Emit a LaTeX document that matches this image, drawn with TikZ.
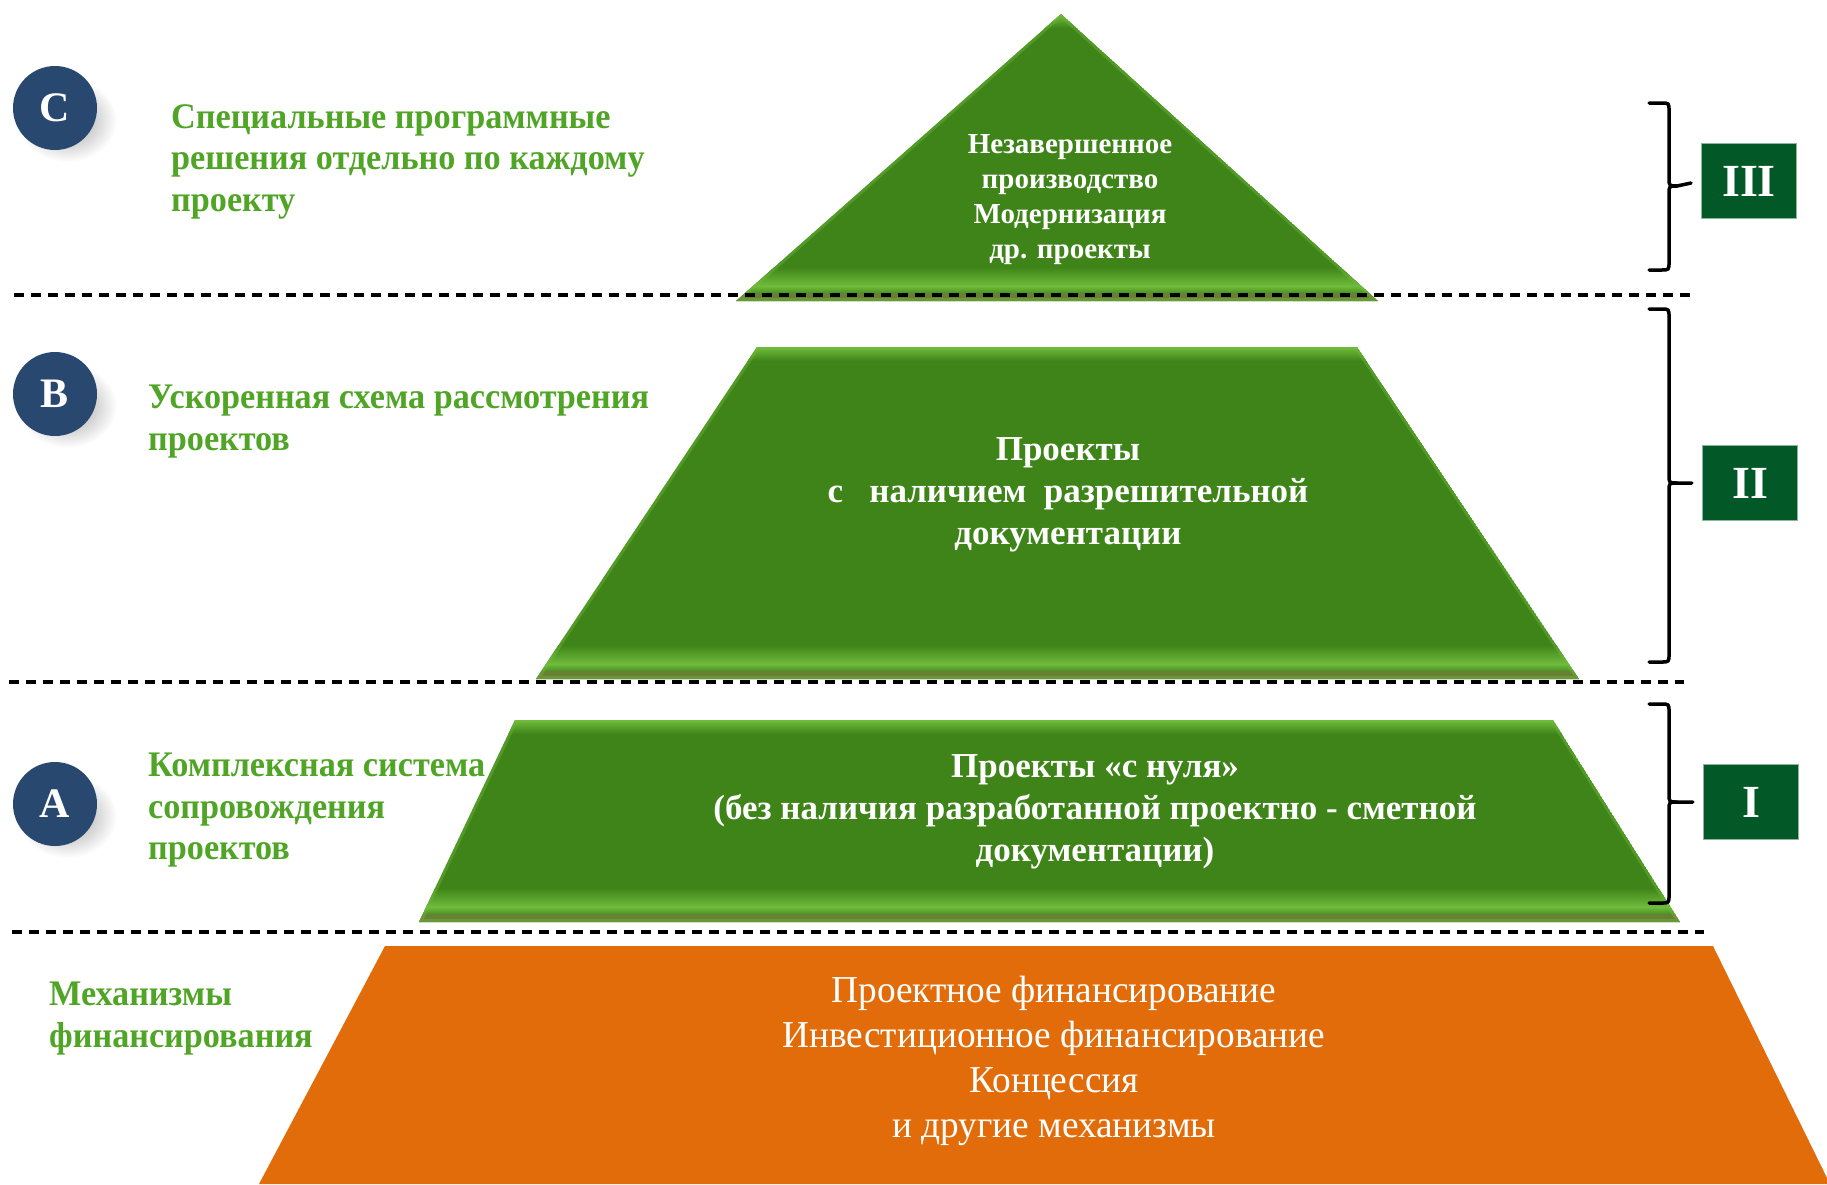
\documentclass[tikz,border=0pt]{standalone}
\usepackage{fontspec}
\setmainfont{Liberation Serif}
\newfontfamily\condfont[FakeStretch=0.95]{Liberation Serif}
\newfontfamily\orfont[FakeStretch=0.982]{Liberation Serif}
\definecolor{gbase}{RGB}{62,132,24}
\definecolor{glight}{RGB}{112,188,60}
\definecolor{gdark}{RGB}{104,128,52}
\definecolor{glabel}{RGB}{80,165,38}
\definecolor{navy}{RGB}{40,72,112}
\definecolor{orng}{RGB}{227,108,10}
\definecolor{boxg}{RGB}{3,88,40}
\newcommand{\greenslab}[3]{%
  \begin{scope}
    \clip #1;
    \fill[gbase] #1;
    \shade[top color=glight, bottom color=gbase] (0,#3) rectangle (1827,#3+14);
    \shade[top color=gbase, bottom color=glight] (0,#2-34) rectangle (1827,#2-15);
    \shade[top color=glight, bottom color=gbase!75!glight] (0,#2-15) rectangle (1827,#2-8);
    \fill[gdark] (0,#2-8) rectangle (1827,#2+2);
    \draw[glight, line width=6, opacity=0.4] #1;
  \end{scope}}
\tikzset{
  lbl/.style={text=glabel, font=\condfont\bfseries\fontsize{36}{41.5}\selectfont, align=left, inner sep=0, anchor=west},
  intext/.style={text=white, font=\bfseries\fontsize{35}{42}\selectfont, align=center, inner sep=0},
  circ/.style={circle, minimum size=84, inner sep=0, fill=navy, text=white, font=\bfseries\fontsize{42}{42}\selectfont},
  numbox/.style={rectangle, minimum width=95, minimum height=75, fill=boxg, draw=boxg!45!white, line width=1.5, text=white, font=\bfseries\fontsize{46}{46}\selectfont},
  sep/.style={dash pattern=on 10pt off 7pt, line width=3.2},
  brace/.style={line width=3.5, line cap=round, line join=round}
}
\begin{document}
\begin{tikzpicture}[x=1pt,y=-1pt]
\useasboundingbox (0,0) rectangle (1827,1184);
% orange base
\fill[orng] (385,946) -- (1713,946) -- (1830,1184) -- (259,1184) -- cycle;
% green shapes
\greenslab{(1061,14) -- (1378,301) -- (736,301) -- cycle}{301}{14}
\greenslab{(757,347) -- (1357,347) -- (1579,679) -- (536,679) -- cycle}{679}{347}
\greenslab{(515,720) -- (1553,720) -- (1680,922) -- (419,922) -- cycle}{922}{720}
% dashed separators
\draw[sep] (14,295) -- (1695,295);
\draw[sep] (9,682) -- (1684,682);
\draw[sep] (12,932) -- (1704,932);
% circle shadows
\foreach \cy in {108,394,804}{
  \shade[inner color=black!40, outer color=white] (67,\cy+12) ellipse [x radius=50, y radius=42];
}
\node[circ] (cC) at (55,108) {C};
\node[circ] (cB) at (55,394) {B};
\node[circ] (cA) at (55,804) {A};
% left labels
\node[lbl] (lC) at (171,161.5) {Специальные программные\\решения отдельно по каждому\\проекту};
\node[lbl] (lB) at (148,421.5) {Ускоренная схема рассмотрения\\проектов};
\node[lbl] (lA) at (148,810.5) {Комплексная система\\сопровождения\\проектов};
\node[lbl] (lM) at (49,1018.5) {Механизмы\\финансирования};
% shape texts
\node[intext, font=\bfseries\fontsize{29}{35}\selectfont] (tTop) at (1070,199.5) {Незавершенное\\производство\\Модернизация\\др. проекты};
\node[intext] (tMid) at (1068,494.5) {Проекты\\с\ \ \ наличием\ \ разрешительной\\документации};
\node[intext] (tLow) at (1095,811.5) {Проекты «с нуля»\\(без наличия разработанной проектно - сметной\\документации)};
\node[text=white, font=\orfont\fontsize{38}{45}\selectfont, align=center, inner sep=0] (tOr) at (1054,1060.5) {Проектное финансирование\\Инвестиционное финансирование\\Концессия\\и другие механизмы};
% level boxes
\node[numbox] (bIII) at (1749,181) {III};
\node[numbox] (bII) at (1750,483) {II};
\node[numbox] (bI) at (1751,802) {I};
% braces
\draw[brace, shorten >=10pt] (1649,103) -- (1661,103) .. controls (1669,103) .. (1669,111) -- (1669,178) .. controls (1669,186) .. (1677,186) -- (bIII.west);
\draw[brace] (1677,186) .. controls (1669,186) .. (1669,194) -- (1669,262) .. controls (1669,270) .. (1661,270) -- (1649,270);
\draw[brace, shorten >=10pt] (1649,309) -- (1661,309) .. controls (1669,309) .. (1669,317) -- (1669,475) .. controls (1669,483) .. (1677,483) -- (bII.west);
\draw[brace] (1677,483) .. controls (1669,483) .. (1669,491) -- (1669,654) .. controls (1669,662) .. (1661,662) -- (1649,662);
\draw[brace, shorten >=10pt] (1649,704) -- (1661,704) .. controls (1669,704) .. (1669,712) -- (1669,794) .. controls (1669,802) .. (1677,802) -- (bI.west);
\draw[brace] (1677,802) .. controls (1669,802) .. (1669,810) -- (1669,895) .. controls (1669,903) .. (1661,903) -- (1649,903);
\end{tikzpicture}
\end{document}
